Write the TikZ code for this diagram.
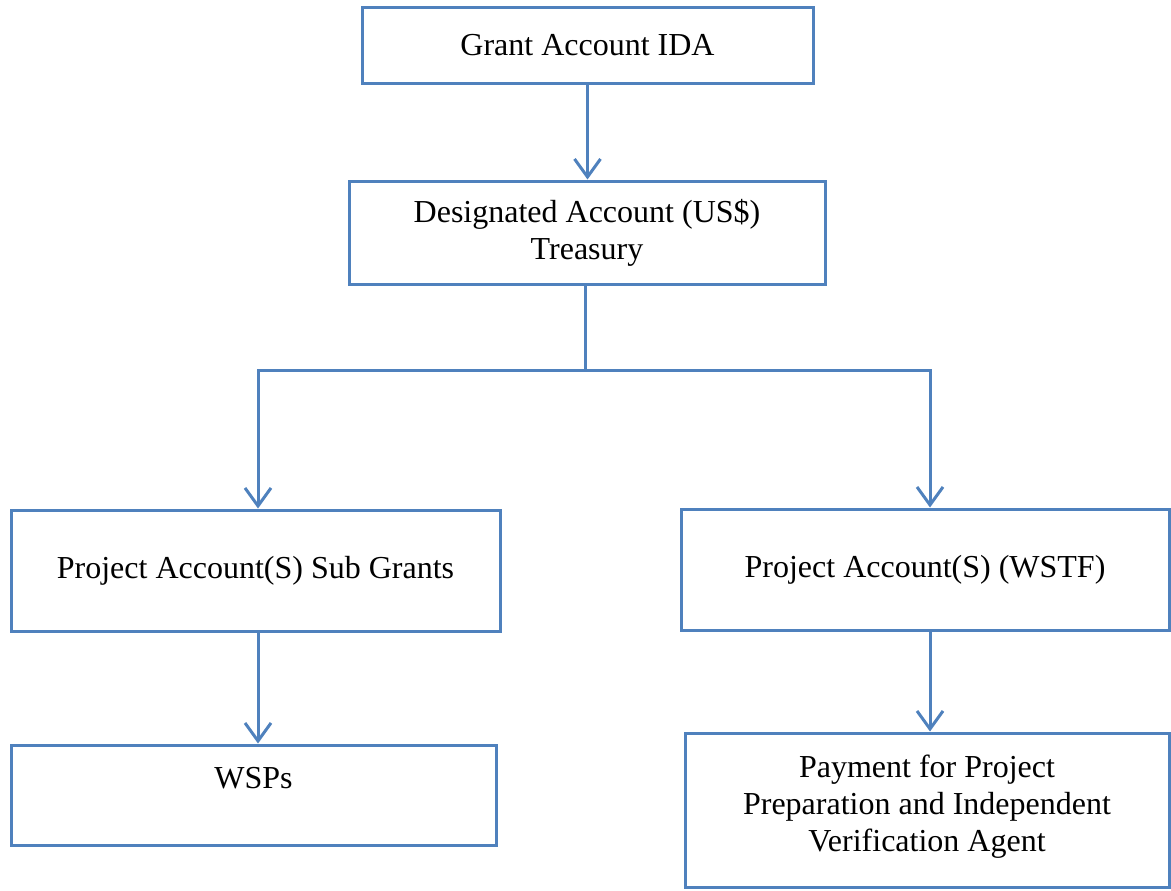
\documentclass[tikz,border=0pt]{standalone}
\usepackage{fontspec}
\setmainfont{Liberation Serif}
\usetikzlibrary{arrows.meta,positioning}
\definecolor{boxblue}{RGB}{79,129,189}
\tikzset{acct/.style={draw=boxblue, line width=1.5pt, rectangle, align=center,
    font=\fontsize{16}{18.5}\selectfont, inner sep=2pt}}
\tikzset{flow/.style={draw=boxblue, line width=1.5pt,
    -{Straight Barb[length=9pt,width=13pt]}}}
\tikzset{link/.style={draw=boxblue, line width=1.5pt}}

\begin{document}
\begin{tikzpicture}[x=0.5pt,y=-0.5pt]
  \useasboundingbox (0,0) rectangle (1171,890);
  \node[acct, minimum width=225.5pt, minimum height=38pt] (grant) at (587.5,45) {Grant Account IDA};
  \node[acct, minimum width=238pt, minimum height=51.5pt] (desig) at (587,232.5) {Designated Account (US\$)\\Treasury};
  \node[acct, minimum width=244.5pt, minimum height=60.5pt] (subg) at (255.5,570.5) {Project Account(S) Sub Grants};
  \node[acct, minimum width=244pt, minimum height=60.5pt] (wstf) at (925,569.5) {Project Account(S) (WSTF)};
  \node[acct, minimum width=242.5pt, minimum height=50pt,
    label={[font=\fontsize{16}{18.5}\selectfont, yshift=8.5pt]center:WSPs}] (wsps) at (253.5,795) {};
  \node[acct, minimum width=242pt, minimum height=77pt,
    label={[acct, draw=none, yshift=1.5pt]center:Payment for Project\\Preparation and Independent\\Verification Agent}] (pay) at (927,810) {};
  \coordinate (split) at (585,370);
  \path[flow] (grant.south) -- (grant.south |- desig.north);
  \path[link] (desig.south -| split) -- (split);
  \path[flow] (split) -| ([xshift=1.25pt]subg.north);
  \path[flow] (split) -| ([xshift=2.5pt]wstf.north);
  \path[flow] ([xshift=1.25pt]subg.south) -- ([xshift=1.25pt]subg.south |- wsps.north);
  \path[flow] ([xshift=2.5pt]wstf.south) -- ([xshift=2.5pt]wstf.south |- pay.north);
\end{tikzpicture}
\end{document}
